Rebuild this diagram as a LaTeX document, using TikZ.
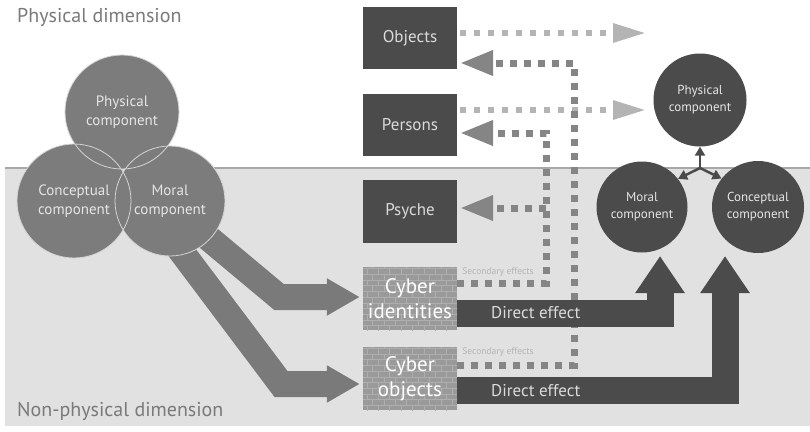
\documentclass[tikz,border=0pt]{standalone}
\usepackage{fontspec}
\setmainfont{PT Sans}
\usetikzlibrary{arrows.meta,patterns,calc}
\definecolor{bggray}{HTML}{E1E1E1}
\definecolor{sepline}{HTML}{A8A8A8}
\definecolor{venn}{HTML}{7C7C7C}
\definecolor{vennline}{HTML}{D4D4D4}
\definecolor{darkfill}{HTML}{4B4B4B}
\definecolor{boxtext}{HTML}{DADADA}
\definecolor{lightdot}{HTML}{B4B4B4}
\definecolor{darkdot}{HTML}{858585}
\definecolor{bandgray}{HTML}{7A7A7A}
\definecolor{cyberfill}{HTML}{9A9A9A}
\definecolor{cyberpat}{HTML}{AEAEAE}
\definecolor{dimtext}{HTML}{7A7A7A}
\tikzset{
  boxnode/.style={fill=darkfill, minimum width=94pt, minimum height=62pt, inner sep=0pt,
    text=boxtext, font=\fontsize{17}{20}\selectfont},
  cybernode/.style={fill=cyberfill, postaction={pattern=bricks, pattern color=cyberpat},
    minimum width=94pt, minimum height=63pt, inner sep=0pt, text=white, align=center,
    font=\fontsize{21}{25}\selectfont},
  venncirc/.style={circle, fill=venn, inner sep=0pt, text=white!90!black, align=center,
    font=\fontsize{15}{19}\selectfont},
  rcirc/.style={circle, fill=darkfill, inner sep=0pt, text=white!90!black, align=center,
    font=\fontsize{13}{17}\selectfont},
  ldots/.style={draw=lightdot, line width=6pt, dash pattern=on 6pt off 8pt,
    -{Triangle[width=18pt,length=33pt,fill=lightdot]}},
  ddots/.style={draw=darkdot, line width=7pt, dash pattern=on 7pt off 7pt,
    -{Triangle[width=24pt,length=33pt,fill=darkdot]}},
  bandarrow/.style={draw=bandgray, line width=26pt, line join=miter,
    -{Triangle[width=35pt,length=33pt,fill=bandgray]}},
  directarrow/.style={draw=darkfill, line width=27pt, line join=miter,
    -{Triangle[width=47pt,length=37pt,fill=darkfill]}},
  triad/.style={draw=darkfill, line width=2.5pt, -{Triangle[width=10pt,length=9pt,fill=darkfill]}},
  dimlabel/.style={text=dimtext, font=\fontsize{20}{24}\selectfont, inner sep=0pt},
  sectext/.style={text=lightdot, font=\fontsize{9.5}{11}\selectfont, inner sep=0pt},
  dtext/.style={text=boxtext, font=\fontsize{17}{20}\selectfont, inner sep=0pt}
}
\begin{document}
\begin{tikzpicture}[x=1pt,y=-1pt]
\useasboundingbox (0,0) rectangle (810,431);
% background
\fill[white] (0,0) rectangle (810,431);
\fill[bggray] (5,168) rectangle (810,426);
\draw[sepline, line width=1.5pt] (5,168) -- (810,168);
\node[dimlabel, anchor=base west] (pd) at (17,22) {Physical dimension};
\node[dimlabel, anchor=base west] (npd) at (17,416) {Non-physical dimension};

% boxes
\node[boxnode] (objects) at (410,38) {Objects};
\node[boxnode] (persons) at (410,125) {Persons};
\node[boxnode, minimum height=63pt] (psyche) at (410,211.5) {Psyche};
\node[cybernode] (ci) at (410,298.5) {Cyber\\identities};
\node[cybernode] (co) at (410,378.5) {Cyber\\objects};

% right circles
\node[rcirc, minimum size=93pt] (phys2) at (700,100) {Physical\\component};
\node[rcirc, minimum size=91pt] (moral2) at (642,207) {Moral\\component};
\node[rcirc, minimum size=92pt] (conc2) at (758,207) {Conceptual\\component};

% free ends / routing coordinates
\coordinate (colA) at (574,0);
\coordinate (colB) at (546,0);
\coordinate (lend1) at (646,33);
\coordinate (lend2) at (646,110);

% light dotted (outgoing)
\draw[ldots] ($(objects.east)+(3,-5)$) -- (lend1);
\draw[ldots] ($(persons.east)+(3,-15)$) -- (lend2);

% dark dotted (secondary effects)
\coordinate (s1) at ($(co.east)+(0,-13.5)$);
\coordinate (objin) at ($(objects.east)+(3,25)$);
\draw[ddots] (s1) -- (s1 -| colA) -- (colA |- objin) -- (objin);
\coordinate (s2) at ($(ci.east)+(0,-15.5)$);
\coordinate (perin) at ($(persons.east)+(3,8)$);
\draw[ddots] (s2) -- (s2 -| colB) -- (colB |- perin) -- (perin);
\coordinate (psyin) at ($(psyche.east)+(3,-3.5)$);
\draw[ddots] (colB |- psyin) -- (psyin);

\node[sectext] (sec1) at (498,272) {Secondary effects};
\node[sectext] (sec2) at (498,352) {Secondary effects};

% bands from Venn to cyber boxes
\coordinate (b1s) at (200,231);
\coordinate (b1m) at (279,297);
\draw[bandarrow] (b1s) -- (b1m) -- ($(ci.west)+(-3,-1.5)$);
\coordinate (b2s) at (175,243);
\coordinate (b2m) at (281,384);
\draw[bandarrow] (b2s) -- (b2m) -- ($(co.west)+(-3,5.5)$);

% Venn
\node[venncirc, minimum size=114pt] (vp) at (122,112) {Physical\\component};
\node[venncirc, minimum size=114pt] (vc) at (74,201) {Conceptual\\component};
\node[venncirc, minimum size=110pt] (vm) at (170,201) {Moral\\component};
\draw[vennline, line width=0.8pt] (vp.center) circle[radius=57];
\draw[vennline, line width=0.8pt] (vc.center) circle[radius=57];
\draw[vennline, line width=0.8pt] (vm.center) circle[radius=55];

% direct effect arrows
\coordinate (t1) at (660,256);
\coordinate (t2) at (725,256);
\coordinate (d1s) at ($(ci.east)+(0,14.5)$);
\coordinate (d2s) at ($(co.east)+(0,12)$);
\draw[directarrow] (d1s) -- (d1s -| t1) -- (t1);
\draw[directarrow] (d2s) -- (d2s -| t2) -- (t2);
\node[dtext, anchor=west] (de1) at (491,313) {Direct effect};
\node[dtext, anchor=west] (de2) at (491,390.5) {Direct effect};

% triad
\coordinate (tri) at (700,168);
\draw[triad] (tri) -- (phys2.south);
\draw[triad] (tri) -- (moral2.38);
\draw[triad] (tri) -- (conc2.142);
\end{tikzpicture}
\end{document}
